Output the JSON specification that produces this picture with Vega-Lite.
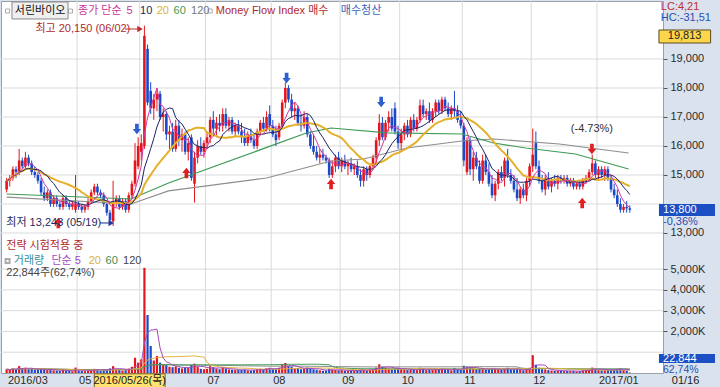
{
"$schema":"https://vega.github.io/schema/vega-lite/v6.json",
"padding":0,
"autosize":{"type":"pad"},
"background":"#dae2ed",
"width":662,"height":372,
"config":{"view":{"stroke":"#9aa0a8","fill":"#ffffff"},"font":"Liberation Sans","axis":{"labelFont":"Liberation Sans","labelFontSize":11,"labelColor":"#2b2b2b","domain":false}},
"datasets":{"k":[
{"i":0,"o":14500,"h":14900,"l":14400,"c":14800,"v":180},{"i":1,"o":14800,"h":15000,"l":14600,"c":14900,"v":150},{"i":2,"o":14900,"h":15300,"l":14800,"c":15200,"v":220},{"i":3,"o":15200,"h":15300,"l":14900,"c":15100,"v":160},{"i":4,"o":15100,"h":15900,"l":15000,"c":15500,"v":330},{"i":5,"o":15500,"h":15600,"l":15200,"c":15300,"v":200},{"i":6,"o":15300,"h":15800,"l":15200,"c":15600,"v":250},{"i":7,"o":15600,"h":15700,"l":15300,"c":15400,"v":180},{"i":8,"o":15400,"h":15500,"l":15000,"c":15100,"v":200},{"i":9,"o":15100,"h":15300,"l":14900,"c":15000,"v":150},
{"i":10,"o":15000,"h":15100,"l":14700,"c":14800,"v":170},{"i":11,"o":14800,"h":14900,"l":14300,"c":14400,"v":210},{"i":12,"o":14400,"h":14600,"l":14100,"c":14200,"v":160},{"i":13,"o":14200,"h":14500,"l":14100,"c":14400,"v":140},{"i":14,"o":14400,"h":14500,"l":13900,"c":14000,"v":180},{"i":15,"o":14000,"h":14300,"l":13900,"c":14200,"v":130},{"i":16,"o":14200,"h":14300,"l":13900,"c":14000,"v":120},{"i":17,"o":14000,"h":14100,"l":13800,"c":13900,"v":110},{"i":18,"o":13900,"h":14300,"l":13800,"c":14200,"v":150},{"i":19,"o":14200,"h":14300,"l":13900,"c":14000,"v":120},
{"i":20,"o":14000,"h":14100,"l":13800,"c":13900,"v":100},{"i":21,"o":13900,"h":14100,"l":13800,"c":14000,"v":90},{"i":22,"o":13800,"h":15000,"l":13700,"c":14000,"v":260},{"i":23,"o":14000,"h":14100,"l":13800,"c":13900,"v":120},{"i":24,"o":13900,"h":14000,"l":13700,"c":13800,"v":100},{"i":25,"o":13800,"h":14000,"l":13700,"c":13900,"v":90},{"i":26,"o":13900,"h":14200,"l":13800,"c":14100,"v":130},{"i":27,"o":14100,"h":14500,"l":14000,"c":14400,"v":170},{"i":28,"o":14400,"h":14700,"l":14300,"c":14600,"v":200},{"i":29,"o":14600,"h":14700,"l":14300,"c":14400,"v":150},
{"i":30,"o":14400,"h":14500,"l":14200,"c":14300,"v":110},{"i":31,"o":14300,"h":14400,"l":13900,"c":14000,"v":140},{"i":32,"o":14000,"h":14100,"l":13600,"c":13700,"v":170},{"i":33,"o":13700,"h":13800,"l":13400,"c":13450,"v":220},{"i":34,"o":13400,"h":14800,"l":13243,"c":14000,"v":330},{"i":35,"o":14000,"h":14300,"l":13900,"c":14200,"v":180},{"i":36,"o":14200,"h":14300,"l":13800,"c":13900,"v":150},{"i":37,"o":13900,"h":14200,"l":13800,"c":14100,"v":120},{"i":38,"o":14100,"h":14200,"l":13700,"c":13800,"v":140},{"i":39,"o":13800,"h":14400,"l":13700,"c":14300,"v":220},
{"i":40,"o":14300,"h":14800,"l":14200,"c":14700,"v":300},{"i":41,"o":14700,"h":16100,"l":14600,"c":15500,"v":735},{"i":42,"o":15300,"h":16300,"l":15200,"c":16000,"v":500},{"i":43,"o":15800,"h":16400,"l":15500,"c":16100,"v":650},{"i":44,"o":16000,"h":20150,"l":15900,"c":19800,"v":5060},{"i":45,"o":19350,"h":19500,"l":17400,"c":17500,"v":2790},{"i":46,"o":17900,"h":18200,"l":17100,"c":17300,"v":1300},{"i":47,"o":17300,"h":17800,"l":16900,"c":17600,"v":600},{"i":48,"o":17600,"h":18000,"l":17200,"c":17800,"v":820},{"i":49,"o":17800,"h":17900,"l":16900,"c":17000,"v":500},
{"i":50,"o":17000,"h":17300,"l":16500,"c":17100,"v":400},{"i":51,"o":17100,"h":17200,"l":16200,"c":16400,"v":380},{"i":52,"o":16400,"h":16700,"l":15900,"c":16500,"v":300},{"i":53,"o":16500,"h":16800,"l":15800,"c":15900,"v":280},{"i":54,"o":15900,"h":16900,"l":15800,"c":16700,"v":320},{"i":55,"o":16700,"h":16900,"l":16000,"c":16200,"v":250},{"i":56,"o":16200,"h":16600,"l":15800,"c":16400,"v":220},{"i":57,"o":16400,"h":16500,"l":15700,"c":15800,"v":260},{"i":58,"o":15800,"h":16300,"l":15500,"c":16100,"v":240},{"i":59,"o":16300,"h":16400,"l":14800,"c":14900,"v":400},
{"i":60,"o":14700,"h":15800,"l":14050,"c":15600,"v":450},{"i":61,"o":15600,"h":16200,"l":15400,"c":16000,"v":300},{"i":62,"o":16000,"h":16300,"l":15700,"c":15800,"v":200},{"i":63,"o":15800,"h":16200,"l":15600,"c":16100,"v":180},{"i":64,"o":16100,"h":16500,"l":15900,"c":16300,"v":200},{"i":65,"o":16300,"h":17000,"l":16100,"c":16900,"v":330},{"i":66,"o":16900,"h":17200,"l":16400,"c":16600,"v":280},{"i":67,"o":16600,"h":17000,"l":16300,"c":16800,"v":220},{"i":68,"o":16800,"h":17100,"l":16500,"c":16700,"v":180},{"i":69,"o":16700,"h":17300,"l":16500,"c":17100,"v":260},
{"i":70,"o":17100,"h":17300,"l":16600,"c":16700,"v":220},{"i":71,"o":16700,"h":17000,"l":16500,"c":16900,"v":170},{"i":72,"o":16900,"h":17000,"l":16400,"c":16500,"v":160},{"i":73,"o":16500,"h":16800,"l":16300,"c":16700,"v":150},{"i":74,"o":16700,"h":16900,"l":16400,"c":16500,"v":140},{"i":75,"o":16500,"h":16800,"l":16100,"c":16300,"v":150},{"i":76,"o":16300,"h":16600,"l":16000,"c":16100,"v":170},{"i":77,"o":16100,"h":16500,"l":16000,"c":16400,"v":130},{"i":78,"o":16400,"h":16600,"l":16100,"c":16200,"v":120},{"i":79,"o":16200,"h":16400,"l":15900,"c":16000,"v":140},
{"i":80,"o":16000,"h":16600,"l":15900,"c":16500,"v":180},{"i":81,"o":16500,"h":16900,"l":16400,"c":16800,"v":200},{"i":82,"o":16800,"h":17000,"l":16500,"c":16600,"v":160},{"i":83,"o":16600,"h":17200,"l":16500,"c":17000,"v":230},{"i":84,"o":17100,"h":17400,"l":16500,"c":16700,"v":250},{"i":85,"o":16700,"h":16900,"l":16300,"c":16400,"v":200},{"i":86,"o":16400,"h":16700,"l":16000,"c":16200,"v":190},{"i":87,"o":16300,"h":16800,"l":16200,"c":16700,"v":250},{"i":88,"o":16700,"h":17600,"l":16600,"c":17500,"v":420},{"i":89,"o":17500,"h":18200,"l":17300,"c":18000,"v":480},
{"i":90,"o":18000,"h":18100,"l":17500,"c":17600,"v":350},{"i":91,"o":17600,"h":17800,"l":17000,"c":17200,"v":300},{"i":92,"o":17200,"h":17500,"l":16900,"c":17300,"v":220},{"i":93,"o":17300,"h":17400,"l":16700,"c":16800,"v":240},{"i":94,"o":16800,"h":17100,"l":16500,"c":16700,"v":180},{"i":95,"o":16700,"h":17200,"l":16600,"c":17000,"v":200},{"i":96,"o":17000,"h":17100,"l":16300,"c":16400,"v":260},{"i":97,"o":16400,"h":16500,"l":15900,"c":16000,"v":240},{"i":98,"o":16000,"h":16400,"l":15700,"c":15800,"v":180},{"i":99,"o":15800,"h":16000,"l":15500,"c":15600,"v":160},
{"i":100,"o":15600,"h":15900,"l":15400,"c":15700,"v":130},{"i":101,"o":15700,"h":15900,"l":15500,"c":15600,"v":110},{"i":102,"o":15600,"h":15700,"l":15400,"c":15500,"v":120},{"i":103,"o":15500,"h":15600,"l":14900,"c":15000,"v":200},{"i":104,"o":15000,"h":15500,"l":14900,"c":15300,"v":170},{"i":105,"o":15300,"h":15700,"l":15100,"c":15600,"v":150},{"i":106,"o":15600,"h":15800,"l":15200,"c":15300,"v":130},{"i":107,"o":15300,"h":15600,"l":15100,"c":15500,"v":140},{"i":108,"o":15500,"h":15700,"l":15200,"c":15300,"v":120},{"i":109,"o":15300,"h":15500,"l":15000,"c":15400,"v":110},
{"i":110,"o":15400,"h":15600,"l":15100,"c":15200,"v":120},{"i":111,"o":15200,"h":15400,"l":15000,"c":15300,"v":100},{"i":112,"o":15300,"h":15500,"l":14900,"c":15000,"v":140},{"i":113,"o":15000,"h":15200,"l":14600,"c":14800,"v":170},{"i":114,"o":14800,"h":15300,"l":14600,"c":15200,"v":160},{"i":115,"o":15200,"h":15300,"l":14800,"c":15000,"v":120},{"i":116,"o":15000,"h":15400,"l":14900,"c":15300,"v":150},{"i":117,"o":15300,"h":15700,"l":15200,"c":15600,"v":180},{"i":118,"o":15600,"h":16300,"l":15400,"c":16200,"v":260},{"i":119,"o":16200,"h":17100,"l":16000,"c":16800,"v":420},
{"i":120,"o":16800,"h":17000,"l":16200,"c":16300,"v":300},{"i":121,"o":16300,"h":16900,"l":16200,"c":16800,"v":250},{"i":122,"o":16800,"h":17200,"l":16500,"c":17000,"v":220},{"i":123,"o":17000,"h":17300,"l":16500,"c":16600,"v":200},{"i":124,"o":17300,"h":17500,"l":16400,"c":16500,"v":230},{"i":125,"o":16500,"h":16700,"l":15900,"c":16100,"v":250},{"i":126,"o":16100,"h":16600,"l":15800,"c":16400,"v":180},{"i":127,"o":16400,"h":16800,"l":16200,"c":16700,"v":170},{"i":128,"o":16700,"h":16900,"l":16300,"c":16400,"v":140},{"i":129,"o":16400,"h":17000,"l":16300,"c":16900,"v":180},
{"i":130,"o":16900,"h":17100,"l":16500,"c":16600,"v":150},{"i":131,"o":16600,"h":17000,"l":16500,"c":16900,"v":140},{"i":132,"o":16900,"h":17600,"l":16800,"c":17400,"v":250},{"i":133,"o":17400,"h":17600,"l":17000,"c":17100,"v":200},{"i":134,"o":17100,"h":17300,"l":16900,"c":17200,"v":140},{"i":135,"o":17200,"h":17500,"l":16800,"c":16900,"v":170},{"i":136,"o":16900,"h":17300,"l":16800,"c":17200,"v":150},{"i":137,"o":17200,"h":17600,"l":17000,"c":17500,"v":200},{"i":138,"o":17500,"h":17600,"l":17100,"c":17200,"v":160},{"i":139,"o":17200,"h":17700,"l":17100,"c":17600,"v":210},
{"i":140,"o":17600,"h":17700,"l":17200,"c":17300,"v":160},{"i":141,"o":17300,"h":17500,"l":17000,"c":17100,"v":150},{"i":142,"o":17100,"h":17400,"l":16900,"c":17300,"v":130},{"i":143,"o":17300,"h":17900,"l":17000,"c":17200,"v":240},{"i":144,"o":17200,"h":17400,"l":16800,"c":16900,"v":180},{"i":145,"o":16900,"h":17200,"l":16600,"c":16700,"v":170},{"i":146,"o":16700,"h":16800,"l":15300,"c":15500,"v":350},{"i":147,"o":15100,"h":16300,"l":15000,"c":16200,"v":300},{"i":148,"o":16200,"h":16300,"l":15000,"c":15200,"v":280},{"i":149,"o":15200,"h":15800,"l":14800,"c":15600,"v":220},
{"i":150,"o":15600,"h":15800,"l":15200,"c":15300,"v":180},{"i":151,"o":15300,"h":15500,"l":14700,"c":14800,"v":200},{"i":152,"o":14800,"h":15700,"l":14700,"c":15500,"v":220},{"i":153,"o":15500,"h":15700,"l":15000,"c":15100,"v":170},{"i":154,"o":15100,"h":15400,"l":14600,"c":14700,"v":190},{"i":155,"o":14700,"h":15000,"l":14200,"c":14300,"v":220},{"i":156,"o":14300,"h":14800,"l":14100,"c":14700,"v":200},{"i":157,"o":14700,"h":15200,"l":14500,"c":15100,"v":180},{"i":158,"o":15100,"h":15300,"l":14800,"c":14900,"v":150},{"i":159,"o":14900,"h":15600,"l":14600,"c":15500,"v":200},
{"i":160,"o":15500,"h":15900,"l":14900,"c":15000,"v":250},{"i":161,"o":15000,"h":15200,"l":14700,"c":14800,"v":170},{"i":162,"o":14800,"h":15000,"l":14400,"c":14500,"v":160},{"i":163,"o":14500,"h":14900,"l":14100,"c":14200,"v":180},{"i":164,"o":14200,"h":14600,"l":14000,"c":14500,"v":150},{"i":165,"o":14500,"h":14700,"l":14200,"c":14300,"v":130},{"i":166,"o":14300,"h":14900,"l":14100,"c":14800,"v":180},{"i":167,"o":14800,"h":15400,"l":14600,"c":15300,"v":250},{"i":168,"o":15300,"h":16600,"l":15100,"c":15700,"v":860},{"i":169,"o":16100,"h":16500,"l":15200,"c":15300,"v":400},
{"i":170,"o":15300,"h":15500,"l":14700,"c":14800,"v":250},{"i":171,"o":14800,"h":15000,"l":14400,"c":14500,"v":180},{"i":172,"o":14500,"h":15000,"l":14300,"c":14900,"v":170},{"i":173,"o":14900,"h":15100,"l":14500,"c":14600,"v":140},{"i":174,"o":14600,"h":14900,"l":14400,"c":14800,"v":120},{"i":175,"o":14800,"h":15000,"l":14600,"c":14700,"v":110},{"i":176,"o":14700,"h":15000,"l":14500,"c":14900,"v":120},{"i":177,"o":14900,"h":15000,"l":14700,"c":14800,"v":100},{"i":178,"o":14800,"h":15000,"l":14700,"c":14900,"v":90},{"i":179,"o":14900,"h":15000,"l":14600,"c":14700,"v":100},
{"i":180,"o":14700,"h":14900,"l":14600,"c":14800,"v":90},{"i":181,"o":14800,"h":14900,"l":14500,"c":14600,"v":100},{"i":182,"o":14600,"h":14800,"l":14500,"c":14700,"v":80},{"i":183,"o":14700,"h":14800,"l":14500,"c":14600,"v":90},{"i":184,"o":14600,"h":14900,"l":14500,"c":14800,"v":130},{"i":185,"o":14800,"h":15000,"l":14700,"c":14900,"v":140},{"i":186,"o":14900,"h":15200,"l":14800,"c":15100,"v":180},{"i":187,"o":15100,"h":15700,"l":15000,"c":15400,"v":260},{"i":188,"o":15400,"h":15500,"l":14900,"c":15000,"v":200},{"i":189,"o":15000,"h":15300,"l":14800,"c":15200,"v":150},
{"i":190,"o":15200,"h":15300,"l":14900,"c":15000,"v":130},{"i":191,"o":15000,"h":15300,"l":14800,"c":15200,"v":140},{"i":192,"o":15200,"h":15300,"l":14800,"c":14900,"v":150},{"i":193,"o":14900,"h":15000,"l":14400,"c":14500,"v":180},{"i":194,"o":14500,"h":14700,"l":14200,"c":14300,"v":160},{"i":195,"o":14300,"h":14500,"l":13900,"c":14000,"v":200},{"i":196,"o":14000,"h":14200,"l":13700,"c":13800,"v":220},{"i":197,"o":13800,"h":14000,"l":13700,"c":13900,"v":150},{"i":198,"o":13900,"h":14100,"l":13700,"c":13850,"v":120},{"i":199,"o":13850,"h":13950,"l":13700,"c":13800,"v":23}
],
"months":[{"i":-0.2,"t":"2016/03"},{"i":22.5,"t":"05"},{"i":42.5,"t":""},{"i":63.5,"t":"07"},{"i":84.5,"t":"08"},{"i":106.5,"t":"09"},{"i":125.5,"t":"10"},{"i":145.5,"t":"11"},{"i":167.5,"t":"12"},{"i":188.5,"t":"2017/01"}]
},
"layer":[
{"data":{"name":"months"},"transform":[{"filter":"datum.i > 0"}],"mark":{"type":"rule","color":"#dadada","strokeWidth":1},"encoding":{
"x":{"field":"i","type":"quantitative","scale":{"domain":[-0.2,208],"nice":false,"zero":false},"axis":null}}},
{"data":{"values":[{"p":13000},{"p":14000},{"p":15000},{"p":16000},{"p":17000},{"p":18000},{"p":19000}]},"mark":{"type":"rule","color":"#dadada","strokeWidth":1},"encoding":{
"y":{"field":"p","type":"quantitative","scale":{"domain":[8172.4,21000],"nice":false,"zero":false},"axis":null}}},
{"data":{"values":[{"v":1000},{"v":2000},{"v":3000},{"v":4000},{"v":5000}]},"mark":{"type":"rule","color":"#dadada","strokeWidth":1},"encoding":{
"y":{"field":"v","type":"quantitative","scale":{"domain":[0,17900],"nice":false,"zero":false},"axis":null}}},
{"data":{"name":"k"},"mark":{"type":"rule","strokeWidth":1},"encoding":{
"x":{"field":"i","type":"quantitative","scale":{"domain":[-0.2,208],"nice":false,"zero":false},"axis":null},
"y":{"field":"l","type":"quantitative","scale":{"domain":[8172.4,21000],"nice":false,"zero":false},"axis":{"orient":"right","title":null,"values":[13000,15000,16000,17000,18000,19000],"format":",d","tickSize":4,"tickColor":"#555555","labelPadding":3,"minExtent":58,"maxExtent":58,"grid":false}},
"y2":{"field":"h"},
"color":{"condition":{"test":"datum.c >= datum.o","value":"#e3161d"},"value":"#1b48c8"}}},
{"data":{"name":"k"},"mark":{"type":"bar","size":2.2},"encoding":{
"x":{"field":"i","type":"quantitative","scale":{"domain":[-0.2,208],"nice":false,"zero":false},"axis":null},
"y":{"field":"v","type":"quantitative","scale":{"domain":[0,17900],"nice":false,"zero":false},"axis":{"orient":"right","title":null,"values":[2000,3000,4000,5000],"labelExpr":"format(datum.value, ',') + 'K'","tickSize":4,"tickColor":"#555555","labelPadding":3,"minExtent":58,"maxExtent":58,"grid":false}},
"y2":{"datum":0},
"color":{"condition":{"test":"datum.c >= datum.o","value":"#e3161d"},"value":"#1b48c8"}}},
{"data":{"name":"k"},"mark":{"type":"bar","size":2.6},"encoding":{
"x":{"field":"i","type":"quantitative","scale":{"domain":[-0.2,208],"nice":false,"zero":false},"axis":null},
"y":{"field":"o","type":"quantitative","scale":{"domain":[8172.4,21000],"nice":false,"zero":false},"axis":null},
"y2":{"field":"c"},
"color":{"condition":{"test":"datum.c >= datum.o","value":"#e3161d"},"value":"#1b48c8"}}},
{"data":{"values":[{"i":0,"p":14240},{"i":39.7,"p":14000},{"i":51.7,"p":14450},{"i":83,"p":14897},{"i":103.6,"p":15483},{"i":114,"p":15552},{"i":127.8,"p":15931},{"i":145.4,"p":16172},{"i":155.5,"p":16241},{"i":176.5,"p":16069},{"i":198.6,"p":15759}]},"mark":{"type":"line","color":"#8e8e8e","strokeWidth":1.2},"encoding":{
"x":{"field":"i","type":"quantitative","scale":{"domain":[-0.2,208],"nice":false,"zero":false},"axis":null},
"y":{"field":"p","type":"quantitative","scale":{"domain":[8172.4,21000],"nice":false,"zero":false},"axis":null}}},
{"data":{"values":[{"i":0,"p":14345},{"i":39.7,"p":14172},{"i":51.7,"p":14724},{"i":95.7,"p":16448},{"i":103.6,"p":16621},{"i":121.5,"p":16450},{"i":145.4,"p":16414},{"i":155.5,"p":16103},{"i":165.8,"p":15931},{"i":181.6,"p":15724},{"i":198.6,"p":15207}]},"mark":{"type":"line","color":"#3f9b55","strokeWidth":1.2},"encoding":{
"x":{"field":"i","type":"quantitative","scale":{"domain":[-0.2,208],"nice":false,"zero":false},"axis":null},
"y":{"field":"p","type":"quantitative","scale":{"domain":[8172.4,21000],"nice":false,"zero":false},"axis":null}}},
{"data":{"name":"k"},"transform":[{"window":[{"op":"mean","field":"c","as":"m"}],"frame":[-19,0],"sort":[{"field":"i"}]}],"mark":{"type":"line","color":"#e5b12a","strokeWidth":2},"encoding":{
"x":{"field":"i","type":"quantitative","scale":{"domain":[-0.2,208],"nice":false,"zero":false},"axis":null},
"y":{"field":"m","type":"quantitative","scale":{"domain":[8172.4,21000],"nice":false,"zero":false},"axis":null}}},
{"data":{"name":"k"},"transform":[{"window":[{"op":"mean","field":"c","as":"m"}],"frame":[-9,0],"sort":[{"field":"i"}]}],"mark":{"type":"line","color":"#1c2466","strokeWidth":1},"encoding":{
"x":{"field":"i","type":"quantitative","scale":{"domain":[-0.2,208],"nice":false,"zero":false},"axis":null},
"y":{"field":"m","type":"quantitative","scale":{"domain":[8172.4,21000],"nice":false,"zero":false},"axis":null}}},
{"data":{"name":"k"},"transform":[{"window":[{"op":"mean","field":"c","as":"m"}],"frame":[-4,0],"sort":[{"field":"i"}]}],"mark":{"type":"line","color":"#d4369e","strokeWidth":1},"encoding":{
"x":{"field":"i","type":"quantitative","scale":{"domain":[-0.2,208],"nice":false,"zero":false},"axis":null},
"y":{"field":"m","type":"quantitative","scale":{"domain":[8172.4,21000],"nice":false,"zero":false},"axis":null}}},
{"data":{"name":"k"},"transform":[{"window":[{"op":"mean","field":"v","as":"m"}],"frame":[-119,0],"sort":[{"field":"i"}]}],"mark":{"type":"line","color":"#8c8c8c","strokeWidth":1},"encoding":{
"x":{"field":"i","type":"quantitative","scale":{"domain":[-0.2,208],"nice":false,"zero":false},"axis":null},
"y":{"field":"m","type":"quantitative","scale":{"domain":[0,17900],"nice":false,"zero":false},"axis":null}}},
{"data":{"name":"k"},"transform":[{"window":[{"op":"mean","field":"v","as":"m"}],"frame":[-59,0],"sort":[{"field":"i"}]}],"mark":{"type":"line","color":"#3f9b55","strokeWidth":1},"encoding":{
"x":{"field":"i","type":"quantitative","scale":{"domain":[-0.2,208],"nice":false,"zero":false},"axis":null},
"y":{"field":"m","type":"quantitative","scale":{"domain":[0,17900],"nice":false,"zero":false},"axis":null}}},
{"data":{"name":"k"},"transform":[{"window":[{"op":"mean","field":"v","as":"m"}],"frame":[-19,0],"sort":[{"field":"i"}]}],"mark":{"type":"line","color":"#e3b23c","strokeWidth":1},"encoding":{
"x":{"field":"i","type":"quantitative","scale":{"domain":[-0.2,208],"nice":false,"zero":false},"axis":null},
"y":{"field":"m","type":"quantitative","scale":{"domain":[0,17900],"nice":false,"zero":false},"axis":null}}},
{"data":{"name":"k"},"transform":[{"window":[{"op":"mean","field":"v","as":"m"}],"frame":[-4,0],"sort":[{"field":"i"}]}],"mark":{"type":"line","color":"#a24bbd","strokeWidth":1},"encoding":{
"x":{"field":"i","type":"quantitative","scale":{"domain":[-0.2,208],"nice":false,"zero":false},"axis":null},
"y":{"field":"m","type":"quantitative","scale":{"domain":[0,17900],"nice":false,"zero":false},"axis":null}}},
{"mark":{"type":"rule","color":"#b8b8b8","strokeWidth":1},"encoding":{"y":{"datum":20276,"type":"quantitative","scale":{"domain":[8172.4,21000],"nice":false,"zero":false},"axis":null}}},
{"mark":{"type":"rule","color":"#9aa0a8","strokeWidth":2},"encoding":{"y":{"datum":12300,"type":"quantitative","scale":{"domain":[8172.4,21000],"nice":false,"zero":false},"axis":null}}},
{"mark":{"type":"rule","color":"#a52a2a","strokeWidth":1},"encoding":{"y":{"datum":19813,"type":"quantitative","scale":{"domain":[8172.4,21000],"nice":false,"zero":false},"axis":null}}},
{"mark":{"type":"rule","color":"#c03a3a","strokeWidth":1},"encoding":{"x":{"datum":39,"type":"quantitative","scale":{"domain":[-0.2,208],"nice":false,"zero":false},"axis":null}}},
{"data":{"values":[{"i":41.6,"p":16586},{"i":89.4,"p":18345},{"i":119.6,"p":17517}]},"mark":{"type":"point","shape":"M-0.35,-1L0.35,-1L0.35,0L0.8,0L0,1L-0.8,0L-0.35,0Z","filled":true,"color":"#2d5fd0","size":110,"opacity":1},"encoding":{
"x":{"field":"i","type":"quantitative","scale":{"domain":[-0.2,208],"nice":false,"zero":false},"axis":null},
"y":{"field":"p","type":"quantitative","scale":{"domain":[8172.4,21000],"nice":false,"zero":false},"axis":null}}},
{"data":{"values":[{"i":57.4,"p":15069},{"i":103.6,"p":14690},{"i":183.8,"p":14034},{"i":16.5,"p":13345}]},"mark":{"type":"point","shape":"M-0.35,1L0.35,1L0.35,0L0.8,0L0,-1L-0.8,0L-0.35,0Z","filled":true,"color":"#e02020","size":110,"opacity":1},"encoding":{
"x":{"field":"i","type":"quantitative","scale":{"domain":[-0.2,208],"nice":false,"zero":false},"axis":null},
"y":{"field":"p","type":"quantitative","scale":{"domain":[8172.4,21000],"nice":false,"zero":false},"axis":null}}},
{"data":{"values":[{"i":186.9,"p":15897}]},"mark":{"type":"point","shape":"M-0.35,-1L0.35,-1L0.35,0L0.8,0L0,1L-0.8,0L-0.35,0Z","filled":true,"color":"#e02020","size":110,"opacity":1},"encoding":{
"x":{"field":"i","type":"quantitative","scale":{"domain":[-0.2,208],"nice":false,"zero":false},"axis":null},
"y":{"field":"p","type":"quantitative","scale":{"domain":[8172.4,21000],"nice":false,"zero":false},"axis":null}}},
{"data":{"values":[{"i":1.7,"i2":19.6,"p":20966,"p2":20380}]},"mark":{"type":"rect","fill":"#efefef","stroke":"#8a8a8a","strokeWidth":1},"encoding":{
"x":{"field":"i","type":"quantitative","scale":{"domain":[-0.2,208],"nice":false,"zero":false},"axis":null},"x2":{"field":"i2"},
"y":{"field":"p","type":"quantitative","scale":{"domain":[8172.4,21000],"nice":false,"zero":false},"axis":null},"y2":{"field":"p2"}}},
{"data":{"values":[{"i":208.3,"i2":224.8,"p":20000,"p2":19552}]},"mark":{"type":"rect","fill":"#fcd54a","stroke":"#5a4a20","strokeWidth":1},"encoding":{
"x":{"field":"i","type":"quantitative","scale":{"domain":[-0.2,208],"nice":false,"zero":false},"axis":null},"x2":{"field":"i2"},
"y":{"field":"p","type":"quantitative","scale":{"domain":[8172.4,21000],"nice":false,"zero":false},"axis":null},"y2":{"field":"p2"}}},
{"data":{"values":[{"i":208.3,"i2":226.2,"p":14000,"p2":13586}]},"mark":{"type":"rect","fill":"#1d4fc4"},"encoding":{
"x":{"field":"i","type":"quantitative","scale":{"domain":[-0.2,208],"nice":false,"zero":false},"axis":null},"x2":{"field":"i2"},
"y":{"field":"p","type":"quantitative","scale":{"domain":[8172.4,21000],"nice":false,"zero":false},"axis":null},"y2":{"field":"p2"}}},
{"data":{"values":[{"i":0.3,"p":20655},{"i":20.4,"p":20655},{"i":65,"p":20655}]},"mark":{"type":"point","shape":"square","filled":false,"color":"#8a8a8a","size":16,"strokeWidth":1},"encoding":{
"x":{"field":"i","type":"quantitative","scale":{"domain":[-0.2,208],"nice":false,"zero":false},"axis":null},
"y":{"field":"p","type":"quantitative","scale":{"domain":[8172.4,21000],"nice":false,"zero":false},"axis":null}}},
{"data":{"values":[{"i":37.8,"i2":41.9,"p":20034}]},"mark":{"type":"rule","color":"#c0282a","strokeWidth":1},"encoding":{
"x":{"field":"i","type":"quantitative","scale":{"domain":[-0.2,208],"nice":false,"zero":false},"axis":null},"x2":{"field":"i2"},
"y":{"field":"p","type":"quantitative","scale":{"domain":[8172.4,21000],"nice":false,"zero":false},"axis":null}}},
{"data":{"values":[{"i":42.6,"p":20034}]},"mark":{"type":"point","shape":"triangle-right","filled":true,"color":"#c0282a","size":40,"opacity":1},"encoding":{
"x":{"field":"i","type":"quantitative","scale":{"domain":[-0.2,208],"nice":false,"zero":false},"axis":null},
"y":{"field":"p","type":"quantitative","scale":{"domain":[8172.4,21000],"nice":false,"zero":false},"axis":null}}},
{"data":{"values":[{"i":29.8,"i2":33.2,"p":13345}]},"mark":{"type":"rule","color":"#1c2a80","strokeWidth":1},"encoding":{
"x":{"field":"i","type":"quantitative","scale":{"domain":[-0.2,208],"nice":false,"zero":false},"axis":null},"x2":{"field":"i2"},
"y":{"field":"p","type":"quantitative","scale":{"domain":[8172.4,21000],"nice":false,"zero":false},"axis":null}}},
{"data":{"values":[{"i":33.4,"p":13345}]},"mark":{"type":"point","shape":"triangle-right","filled":true,"color":"#1c3aa0","size":40,"opacity":1},"encoding":{
"x":{"field":"i","type":"quantitative","scale":{"domain":[-0.2,208],"nice":false,"zero":false},"axis":null},
"y":{"field":"p","type":"quantitative","scale":{"domain":[8172.4,21000],"nice":false,"zero":false},"axis":null}}},
{"data":{"values":[{"i":2.6,"p":20655,"t":"서린바이오"}]},"mark":{"type":"text","align":"left","baseline":"middle","font":"Liberation Sans, Noto Sans CJK KR","fontSize":11,"color":"#111111"},"encoding":{
"x":{"field":"i","type":"quantitative","scale":{"domain":[-0.2,208],"nice":false,"zero":false},"axis":null},
"y":{"field":"p","type":"quantitative","scale":{"domain":[8172.4,21000],"nice":false,"zero":false},"axis":null},"text":{"field":"t"}}},
{"data":{"values":[{"i":22.8,"p":20655,"t":"종가 단순"},{"i":38.3,"p":20655,"t":"5"}]},"mark":{"type":"text","align":"left","baseline":"middle","font":"Liberation Sans, Noto Sans CJK KR","fontSize":11,"color":"#c8359a"},"encoding":{
"x":{"field":"i","type":"quantitative","scale":{"domain":[-0.2,208],"nice":false,"zero":false},"axis":null},
"y":{"field":"p","type":"quantitative","scale":{"domain":[8172.4,21000],"nice":false,"zero":false},"axis":null},"text":{"field":"t"}}},
{"data":{"values":[{"i":42.6,"p":20655,"t":"10"}]},"mark":{"type":"text","align":"left","baseline":"middle","font":"Liberation Sans","fontSize":11,"color":"#1c2466"},"encoding":{
"x":{"field":"i","type":"quantitative","scale":{"domain":[-0.2,208],"nice":false,"zero":false},"axis":null},
"y":{"field":"p","type":"quantitative","scale":{"domain":[8172.4,21000],"nice":false,"zero":false},"axis":null},"text":{"field":"t"}}},
{"data":{"values":[{"i":47.9,"p":20655,"t":"20"}]},"mark":{"type":"text","align":"left","baseline":"middle","font":"Liberation Sans","fontSize":11,"color":"#e0b030"},"encoding":{
"x":{"field":"i","type":"quantitative","scale":{"domain":[-0.2,208],"nice":false,"zero":false},"axis":null},
"y":{"field":"p","type":"quantitative","scale":{"domain":[8172.4,21000],"nice":false,"zero":false},"axis":null},"text":{"field":"t"}}},
{"data":{"values":[{"i":53.3,"p":20655,"t":"60"}]},"mark":{"type":"text","align":"left","baseline":"middle","font":"Liberation Sans","fontSize":11,"color":"#3f9b55"},"encoding":{
"x":{"field":"i","type":"quantitative","scale":{"domain":[-0.2,208],"nice":false,"zero":false},"axis":null},
"y":{"field":"p","type":"quantitative","scale":{"domain":[8172.4,21000],"nice":false,"zero":false},"axis":null},"text":{"field":"t"}}},
{"data":{"values":[{"i":58.9,"p":20655,"t":"120"}]},"mark":{"type":"text","align":"left","baseline":"middle","font":"Liberation Sans","fontSize":11,"color":"#777777"},"encoding":{
"x":{"field":"i","type":"quantitative","scale":{"domain":[-0.2,208],"nice":false,"zero":false},"axis":null},
"y":{"field":"p","type":"quantitative","scale":{"domain":[8172.4,21000],"nice":false,"zero":false},"axis":null},"text":{"field":"t"}}},
{"data":{"values":[{"i":66.8,"p":20655,"t":"Money Flow Index 매수"},{"i":9.2,"p":20034,"t":"최고 20,150 (06/02)"},{"i":-0.1,"p":12552,"t":"전략 시험적용 중"}]},"mark":{"type":"text","align":"left","baseline":"middle","font":"Liberation Sans, Noto Sans CJK KR","fontSize":11,"color":"#b02a2c"},"encoding":{
"x":{"field":"i","type":"quantitative","scale":{"domain":[-0.2,208],"nice":false,"zero":false},"axis":null},
"y":{"field":"p","type":"quantitative","scale":{"domain":[8172.4,21000],"nice":false,"zero":false},"axis":null},"text":{"field":"t"}}},
{"data":{"values":[{"i":106.7,"p":20655,"t":"매수청산"}]},"mark":{"type":"text","align":"left","baseline":"middle","font":"Liberation Sans, Noto Sans CJK KR","fontSize":11,"color":"#3a64b8"},"encoding":{
"x":{"field":"i","type":"quantitative","scale":{"domain":[-0.2,208],"nice":false,"zero":false},"axis":null},
"y":{"field":"p","type":"quantitative","scale":{"domain":[8172.4,21000],"nice":false,"zero":false},"axis":null},"text":{"field":"t"}}},
{"data":{"values":[{"i":-0.1,"p":13345,"t":"최저 13,243 (05/19)"}]},"mark":{"type":"text","align":"left","baseline":"middle","font":"Liberation Sans, Noto Sans CJK KR","fontSize":11,"color":"#1c2a60"},"encoding":{
"x":{"field":"i","type":"quantitative","scale":{"domain":[-0.2,208],"nice":false,"zero":false},"axis":null},
"y":{"field":"p","type":"quantitative","scale":{"domain":[8172.4,21000],"nice":false,"zero":false},"axis":null},"text":{"field":"t"}}},
{"data":{"values":[{"i":186.9,"p":16586,"t":"(-4.73%)"}]},"mark":{"type":"text","align":"center","baseline":"middle","font":"Liberation Sans","fontSize":11,"color":"#333333"},"encoding":{
"x":{"field":"i","type":"quantitative","scale":{"domain":[-0.2,208],"nice":false,"zero":false},"axis":null},
"y":{"field":"p","type":"quantitative","scale":{"domain":[8172.4,21000],"nice":false,"zero":false},"axis":null},"text":{"field":"t"}}},
{"data":{"values":[{"i":208.9,"p":20793,"t":"LC:4,21"}]},"mark":{"type":"text","align":"left","baseline":"middle","font":"Liberation Sans","fontSize":11,"color":"#c03030"},"encoding":{
"x":{"field":"i","type":"quantitative","scale":{"domain":[-0.2,208],"nice":false,"zero":false},"axis":null},
"y":{"field":"p","type":"quantitative","scale":{"domain":[8172.4,21000],"nice":false,"zero":false},"axis":null},"text":{"field":"t"}}},
{"data":{"values":[{"i":208.9,"p":20414,"t":"HC:-31,51"},{"i":209.6,"p":13370,"t":"-0,36%"}]},"mark":{"type":"text","align":"left","baseline":"middle","font":"Liberation Sans","fontSize":11,"color":"#2a50b0"},"encoding":{
"x":{"field":"i","type":"quantitative","scale":{"domain":[-0.2,208],"nice":false,"zero":false},"axis":null},
"y":{"field":"p","type":"quantitative","scale":{"domain":[8172.4,21000],"nice":false,"zero":false},"axis":null},"text":{"field":"t"}}},
{"data":{"values":[{"i":216.5,"p":19776,"t":"19,813"}]},"mark":{"type":"text","align":"center","baseline":"middle","font":"Liberation Sans","fontSize":11,"color":"#222222"},"encoding":{
"x":{"field":"i","type":"quantitative","scale":{"domain":[-0.2,208],"nice":false,"zero":false},"axis":null},
"y":{"field":"p","type":"quantitative","scale":{"domain":[8172.4,21000],"nice":false,"zero":false},"axis":null},"text":{"field":"t"}}},
{"data":{"values":[{"i":209.6,"p":13793,"t":"13,800"}]},"mark":{"type":"text","align":"left","baseline":"middle","font":"Liberation Sans","fontSize":11,"color":"#ffffff"},"encoding":{
"x":{"field":"i","type":"quantitative","scale":{"domain":[-0.2,208],"nice":false,"zero":false},"axis":null},
"y":{"field":"p","type":"quantitative","scale":{"domain":[8172.4,21000],"nice":false,"zero":false},"axis":null},"text":{"field":"t"}}},
{"data":{"values":[{"i":0.3,"v":5389}]},"mark":{"type":"point","shape":"square","filled":false,"color":"#8a8a8a","size":16},"encoding":{
"x":{"field":"i","type":"quantitative","scale":{"domain":[-0.2,208],"nice":false,"zero":false},"axis":null},
"y":{"field":"v","type":"quantitative","scale":{"domain":[0,17900],"nice":false,"zero":false},"axis":null}}},
{"data":{"values":[{"i":2.3,"v":5389,"t":"거래량"}]},"mark":{"type":"text","align":"left","baseline":"middle","font":"Liberation Sans, Noto Sans CJK KR","fontSize":11,"color":"#3a8f98"},"encoding":{
"x":{"field":"i","type":"quantitative","scale":{"domain":[-0.2,208],"nice":false,"zero":false},"axis":null},
"y":{"field":"v","type":"quantitative","scale":{"domain":[0,17900],"nice":false,"zero":false},"axis":null},"text":{"field":"t"}}},
{"data":{"values":[{"i":14.3,"v":5389,"t":"단순 5"}]},"mark":{"type":"text","align":"left","baseline":"middle","font":"Liberation Sans, Noto Sans CJK KR","fontSize":11,"color":"#a24bbd"},"encoding":{
"x":{"field":"i","type":"quantitative","scale":{"domain":[-0.2,208],"nice":false,"zero":false},"axis":null},
"y":{"field":"v","type":"quantitative","scale":{"domain":[0,17900],"nice":false,"zero":false},"axis":null},"text":{"field":"t"}}},
{"data":{"values":[{"i":26.2,"v":5389,"t":"20"}]},"mark":{"type":"text","align":"left","baseline":"middle","font":"Liberation Sans","fontSize":11,"color":"#d8b040"},"encoding":{
"x":{"field":"i","type":"quantitative","scale":{"domain":[-0.2,208],"nice":false,"zero":false},"axis":null},
"y":{"field":"v","type":"quantitative","scale":{"domain":[0,17900],"nice":false,"zero":false},"axis":null},"text":{"field":"t"}}},
{"data":{"values":[{"i":31.6,"v":5389,"t":"60"}]},"mark":{"type":"text","align":"left","baseline":"middle","font":"Liberation Sans","fontSize":11,"color":"#3f8b55"},"encoding":{
"x":{"field":"i","type":"quantitative","scale":{"domain":[-0.2,208],"nice":false,"zero":false},"axis":null},
"y":{"field":"v","type":"quantitative","scale":{"domain":[0,17900],"nice":false,"zero":false},"axis":null},"text":{"field":"t"}}},
{"data":{"values":[{"i":37.2,"v":5389,"t":"120"},{"i":-0.1,"v":4812,"t":"22,844주(62,74%)"}]},"mark":{"type":"text","align":"left","baseline":"middle","font":"Liberation Sans, Noto Sans CJK KR","fontSize":11,"color":"#444444"},"encoding":{
"x":{"field":"i","type":"quantitative","scale":{"domain":[-0.2,208],"nice":false,"zero":false},"axis":null},
"y":{"field":"v","type":"quantitative","scale":{"domain":[0,17900],"nice":false,"zero":false},"axis":null},"text":{"field":"t"}}},
{"data":{"values":[{"i":208.3,"i2":226.2,"v":913,"v2":481}]},"mark":{"type":"rect","fill":"#1d4fc4"},"encoding":{
"x":{"field":"i","type":"quantitative","scale":{"domain":[-0.2,208],"nice":false,"zero":false},"axis":null},"x2":{"field":"i2"},
"y":{"field":"v","type":"quantitative","scale":{"domain":[0,17900],"nice":false,"zero":false},"axis":null},"y2":{"field":"v2"}}},
{"data":{"values":[{"i":209.6,"v":697,"t":"22,844"}]},"mark":{"type":"text","align":"left","baseline":"middle","font":"Liberation Sans","fontSize":11,"color":"#ffffff"},"encoding":{
"x":{"field":"i","type":"quantitative","scale":{"domain":[-0.2,208],"nice":false,"zero":false},"axis":null},
"y":{"field":"v","type":"quantitative","scale":{"domain":[0,17900],"nice":false,"zero":false},"axis":null},"text":{"field":"t"}}},
{"data":{"values":[{"i":209.6,"v":150,"t":"62,74%"}]},"mark":{"type":"text","align":"left","baseline":"middle","font":"Liberation Sans","fontSize":10.5,"color":"#2a50b0"},"encoding":{
"x":{"field":"i","type":"quantitative","scale":{"domain":[-0.2,208],"nice":false,"zero":false},"axis":null},
"y":{"field":"v","type":"quantitative","scale":{"domain":[0,17900],"nice":false,"zero":false},"axis":null},"text":{"field":"t"}}},
{"data":{"name":"months"},"transform":[{"filter":"datum.t != ''"}],"mark":{"type":"text","align":"left","baseline":"middle","dx":2,"font":"Liberation Sans","fontSize":11,"color":"#2b2b2b"},"encoding":{
"x":{"field":"i","type":"quantitative","scale":{"domain":[-0.2,208],"nice":false,"zero":false},"axis":null},
"y":{"datum":-385,"type":"quantitative","scale":{"domain":[0,17900],"nice":false,"zero":false},"axis":null},"text":{"field":"t"}}},
{"data":{"values":[{"i":28.0,"i2":50.6,"v":-40,"v2":-715}]},"mark":{"type":"rect","fill":"#ffe36e","stroke":"#7a6020","strokeWidth":1},"encoding":{
"x":{"field":"i","type":"quantitative","scale":{"domain":[-0.2,208],"nice":false,"zero":false},"axis":null},"x2":{"field":"i2"},
"y":{"field":"v","type":"quantitative","scale":{"domain":[0,17900],"nice":false,"zero":false},"axis":null},"y2":{"field":"v2"}}},
{"data":{"values":[{"i":39.3,"v":-385,"t":"2016/05/26(목)"},{"i":216.8,"v":-385,"t":"01/16"}]},"mark":{"type":"text","align":"center","baseline":"middle","font":"Liberation Sans, Noto Sans CJK KR","fontSize":11,"color":"#222222"},"encoding":{
"x":{"field":"i","type":"quantitative","scale":{"domain":[-0.2,208],"nice":false,"zero":false},"axis":null},
"y":{"field":"v","type":"quantitative","scale":{"domain":[0,17900],"nice":false,"zero":false},"axis":null},"text":{"field":"t"}}}
],
"resolve":{"scale":{"y":"independent"},"axis":{"y":"independent"}}
}
